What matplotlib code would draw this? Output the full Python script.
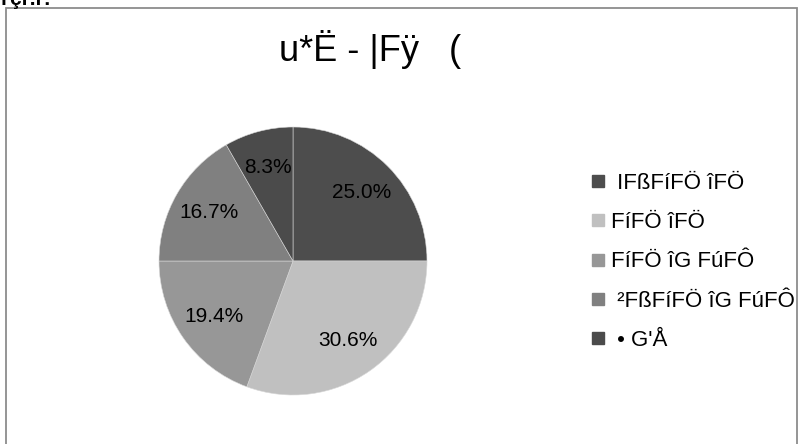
import matplotlib
matplotlib.use("Agg")
import matplotlib.pyplot as plt
from matplotlib.patches import Rectangle
from matplotlib.lines import Line2D

plt.rcParams['font.family'] = ['Liberation Sans', 'DejaVu Sans']

titulo = "u*Ë - |Fÿ   ("
etiquetas = [" IFßFíFÖ îFÖ", "FíFÖ îFÖ", "FíFÖ îG FúFÔ", " ²FßFíFÖ îG FúFÔ", " • G'Å"]
valores = [25.0, 30.6, 19.4, 16.7, 8.3]
colores = ["#4d4d4d", "#c0c0c0", "#979797", "#808080", "#4b4b4b"]

fig = plt.figure(figsize=(8, 4.44), dpi=100)

# marco del grafico
fig.patches.append(Rectangle((6 / 800, -0.05), 791 / 800, 1.05 - 8 / 444,
                             transform=fig.transFigure, fill=False,
                             edgecolor="#8c8c8c", linewidth=1.3))

# texto cortado arriba a la izquierda
fig.text(0.0, 1 - 5 / 444, "ŀçľ.ř:", fontsize=15, fontweight="bold",
         ha="left", va="baseline")

ax = fig.add_axes([(293 - 134) / 800, (444 - 261 - 134) / 444, 268 / 800, 268 / 444])
cunas, textos, pcts = ax.pie(valores, colors=colores, startangle=90, counterclock=False,
                             autopct="%.1f%%", pctdistance=0.72, radius=1,
                             wedgeprops=dict(edgecolor="#d8d8d8", linewidth=0.4),
                             textprops=dict(fontsize=15, color="black"))
ax.set_xlim(-1, 1)
ax.set_ylim(-1, 1)
ax.set_aspect("equal")

fig.text(370 / 800, 1 - 61 / 444, titulo, fontsize=26, ha="center", va="baseline")

manejadores = [Line2D([0], [0], marker="s", linestyle="none", markersize=8.5,
                      markerfacecolor=c, markeredgecolor=c) for c in colores]
fig.legend(manejadores, etiquetas, loc="upper left",
           bbox_to_anchor=(590 / 800, 1 - 173 / 444), frameon=False,
           fontsize=16, handlelength=0.7, handletextpad=0.25, labelspacing=0.82,
           borderpad=0, borderaxespad=0)

fig.savefig("out.png", dpi=100)
